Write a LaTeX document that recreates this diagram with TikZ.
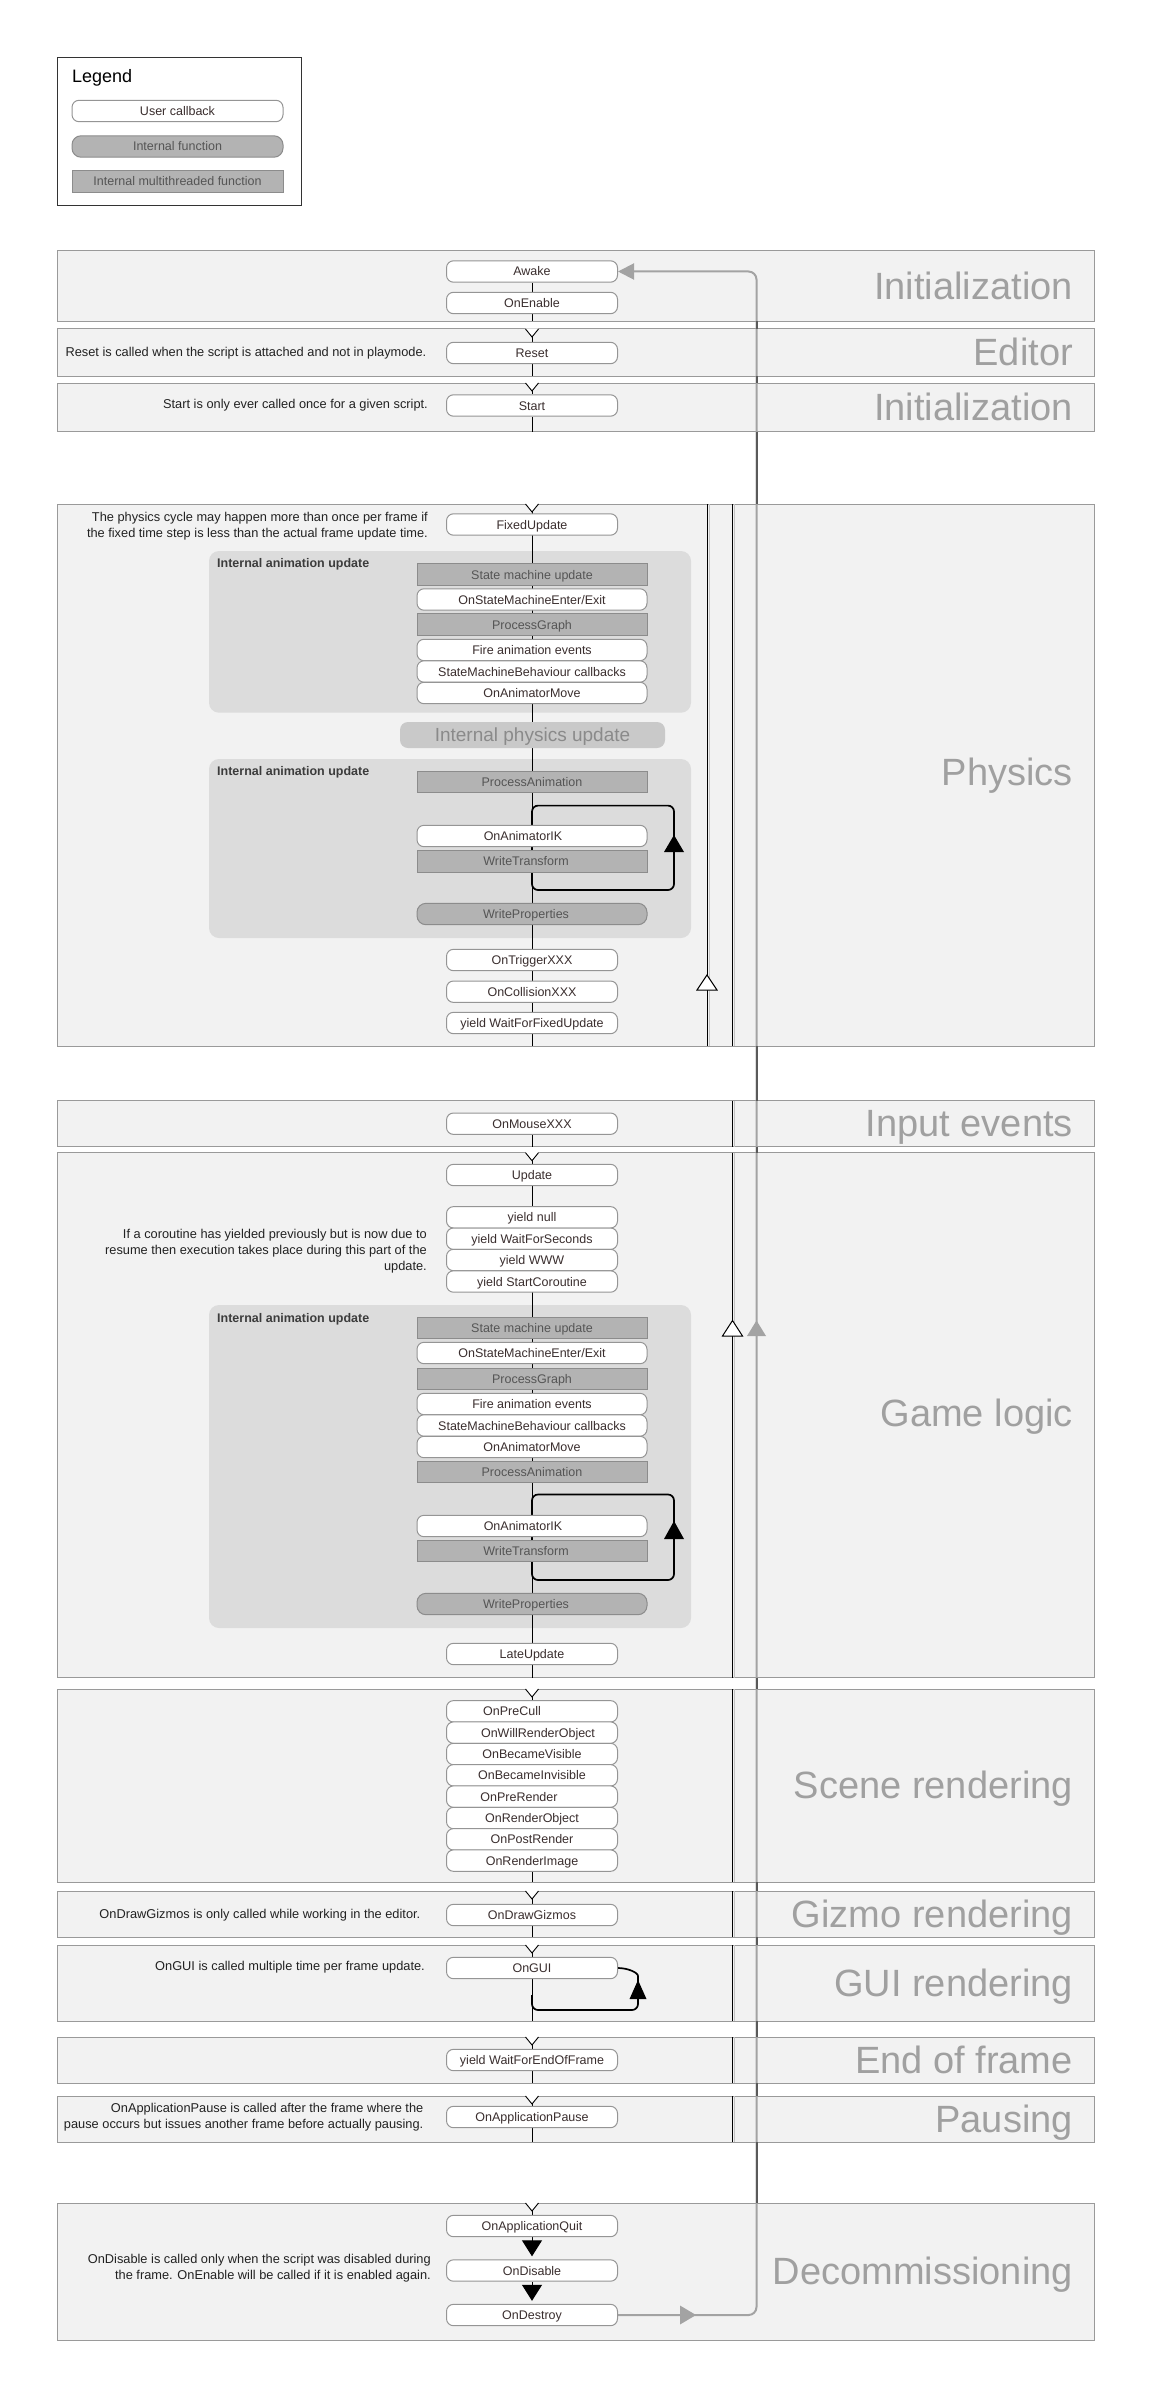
\documentclass[tikz,border=0pt]{standalone}
\usepackage{fontspec}
\setmainfont{Liberation Sans}
\usetikzlibrary{arrows.meta}
\pgfdeclarelayer{back}
\pgfdeclarelayer{mid}
\pgfsetlayers{back,mid,main}

\definecolor{bandfill}{HTML}{F2F2F2}
\definecolor{bandline}{HTML}{9A9A9A}
\definecolor{panelfill}{HTML}{DCDCDC}
\definecolor{paneltext}{HTML}{3C3C3C}
\definecolor{ifnfill}{HTML}{B3B3B3}
\definecolor{ifnline}{HTML}{8C8C8C}
\definecolor{ifntext}{HTML}{555555}
\definecolor{ucbline}{HTML}{959595}
\definecolor{ucbtext}{HTML}{3A2E2E}
\definecolor{labelgray}{HTML}{A0A0A0}
\definecolor{pillfill}{HTML}{C9C9C9}
\definecolor{pilltext}{HTML}{8A8A8A}
\definecolor{retlight}{HTML}{A3A3A3}
\definecolor{retdark}{HTML}{5A5A5A}
\definecolor{lanegray}{HTML}{C4C4C4}
\definecolor{notetext}{HTML}{222222}
\definecolor{legendline}{HTML}{333333}

\newcommand\ufbox{\fontsize{12.5}{14}\selectfont}
\newcommand\ufnote{\fontsize{12.8}{16}\selectfont}
\newcommand\ufband{\fontsize{38}{40}\selectfont}
\newcommand\ufpill{\fontsize{19}{21}\selectfont}
\newcommand\uflegend{\fontsize{18}{20}\selectfont}

\tikzset{
 band/.style={fill=bandfill, draw=bandline, line width=1pt},
 boxbase/.style={minimum height=21.4pt, inner sep=0pt, text height=9pt, text depth=0pt, font=\ufbox, line width=1pt},
 ucb/.style={boxbase, draw=ucbline, fill=white, rounded corners=7pt, minimum width=171pt, text=ucbtext},
 ucbw/.style={ucb, minimum width=230pt},
 ifn/.style={boxbase, draw=ifnline, fill=ifnfill, rounded corners=9pt, minimum width=230pt, text=ifntext},
 imt/.style={boxbase, draw=ifnline, fill=ifnfill, minimum width=230pt, text=ifntext},
 pill/.style={fill=pillfill, rounded corners=8pt, minimum width=265pt, minimum height=26pt, inner sep=0pt, text height=13.6pt, text depth=0pt, font=\ufpill, text=pilltext},
 panel/.style={fill=panelfill, rounded corners=10pt},
 panellabel/.style={anchor=west, inner sep=0pt, font=\ufbox\bfseries, text=paneltext},
 bandlabel/.style={anchor=base east, inner sep=0pt, font=\ufband, text=labelgray},
 note/.style={anchor=east, align=right, inner sep=0pt, font=\ufnote, text=notetext},
 flow/.style={draw=black, line width=1pt},
 loopline/.style={draw=black, line width=1.7pt, rounded corners=6pt},
 lanel/.style={draw=lanegray, line width=1pt},
 laneb/.style={draw=black, line width=1pt},
}

\begin{document}
\begin{tikzpicture}[x=1pt,y=-1pt]
\useasboundingbox (0,0) rectangle (1151,2397);

% ---------------- background layer: bands, lanes, panels
\begin{pgfonlayer}{back}
\fill[white] (0,0) rectangle (1151,2397);
\foreach \n/\ya/\yb in {b1/251/321.5, b2/329/376, b3/383/431.5, b4/504/1046, b5/1100.5/1146.7, b6/1152.7/1677.7, b7/1689/1882, b8/1891/1937, b9/1945/2021, b10/2037/2083, b11/2096/2142, b12/2203/2340}{
  \draw[band] (57,\ya) rectangle (1094.5,\yb);
  \coordinate (\n t) at (532,\ya);
  \coordinate (\n b) at (532,\yb);
  \coordinate (\n l) at (1073,{(\ya+\yb)/2+13});
}
\foreach \n in {b4,b5,b6,b7,b8,b9,b10,b11}{
  \draw[lanel] ([xshift=202.5pt]\n t) -- ([xshift=202.5pt]\n b);
  \draw[laneb] ([xshift=200.5pt]\n t) -- ([xshift=200.5pt]\n b);
}
\draw[lanel] ([xshift=177pt]b4t) -- ([xshift=177pt]b4b);
\draw[laneb] ([xshift=175pt]b4t) -- ([xshift=175pt]b4b);

\fill[panel] (209,551) rectangle (691,712.7);
\fill[panel] (209,759) rectangle (691,938);
\fill[panel] (209,1305) rectangle (691,1628);
\end{pgfonlayer}

% ---------------- legend
\draw[draw=legendline, line width=1pt] (57,57.5) rectangle (301,205.5);
\node[anchor=base west, inner sep=0pt, font=\uflegend, text=black] (legendtitle) at (72,83) {Legend};
\node[ucb, minimum width=211pt] (lucb) at (177.5,111) {User callback};
\node[ifn, minimum width=211pt] (lifn) at (177.5,146.5) {Internal function};
\node[imt, minimum width=211pt] (limt) at (177.5,181.5) {Internal multithreaded function};

% ---------------- nodes
\node[ucb] (awake) at (532,271.5) {Awake};
\node[ucb] (onenable) at (532,303) {OnEnable};
\node[ucb] (reset) at (532,353) {Reset};
\node[ucb] (start) at (532,405.5) {Start};

\node[ucb] (fixedupdate) at (532,524.5) {FixedUpdate};
\node[imt] (psmu) at (532,574.5) {State machine update};
\node[ucbw] (posm) at (532,599.5) {OnStateMachineEnter/Exit};
\node[imt] (ppg) at (532,624.5) {ProcessGraph};
\node[ucbw] (pfae) at (532,650) {Fire animation events};
\node[ucbw] (psmb) at (532,671.5) {StateMachineBehaviour callbacks};
\node[ucbw] (poam) at (532,693) {OnAnimatorMove};
\node[pill] (pphys) at (532.5,735) {Internal physics update};
\node[imt] (ppa) at (532,782) {ProcessAnimation};
\node[ucbw] (pik) at (532,836) {\hspace*{-18pt}OnAnimatorIK};
\node[imt] (pwt) at (532,861.3) {\hspace*{-12pt}WriteTransform};
\node[ifn] (pwp) at (532,914) {\hspace*{-12pt}WriteProperties};
\node[ucb] (trigger) at (532,960) {OnTriggerXXX};
\node[ucb] (collision) at (532,991.7) {OnCollisionXXX};
\node[ucb] (wffu) at (532,1023) {yield WaitForFixedUpdate};

\node[ucb] (onmouse) at (532,1123.7) {OnMouseXXX};

\node[ucb] (update) at (532,1175) {Update};
\node[ucb] (ynull) at (532,1217.3) {yield null};
\node[ucb] (ywfs) at (532,1238.7) {yield WaitForSeconds};
\node[ucb] (ywww) at (532,1260) {yield WWW};
\node[ucb] (ysc) at (532,1281.5) {yield StartCoroutine};
\node[imt] (gsmu) at (532,1328) {State machine update};
\node[ucbw] (gosm) at (532,1353) {OnStateMachineEnter/Exit};
\node[imt] (gpg) at (532,1378.7) {ProcessGraph};
\node[ucbw] (gfae) at (532,1404) {Fire animation events};
\node[ucbw] (gsmb) at (532,1425.5) {StateMachineBehaviour callbacks};
\node[ucbw] (goam) at (532,1447) {OnAnimatorMove};
\node[imt] (gpa) at (532,1472) {ProcessAnimation};
\node[ucbw] (gik) at (532,1526) {\hspace*{-18pt}OnAnimatorIK};
\node[imt] (gwt) at (532,1551) {\hspace*{-12pt}WriteTransform};
\node[ifn] (gwp) at (532,1604) {\hspace*{-12pt}WriteProperties};
\node[ucb] (lateupdate) at (532,1654) {LateUpdate};

\node[ucb] (precull) at (532,1711.3) {\hspace*{-40pt}OnPreCull};
\node[ucb] (willrender) at (532,1732.6) {\hspace*{12pt}OnWillRenderObject};
\node[ucb] (becamevis) at (532,1754.0) {OnBecameVisible};
\node[ucb] (becameinvis) at (532,1775.3) {OnBecameInvisible};
\node[ucb] (prerender) at (532,1796.6) {\hspace*{-26pt}OnPreRender};
\node[ucb] (renderobj) at (532,1818.0) {OnRenderObject};
\node[ucb] (postrender) at (532,1839.3) {OnPostRender};
\node[ucb] (renderimage) at (532,1860.6) {OnRenderImage};

\node[ucb] (drawgizmos) at (532,1915) {OnDrawGizmos};
\node[ucb] (ongui) at (532,1968) {OnGUI};
\node[ucb] (ywfeof) at (532,2060) {yield WaitForEndOfFrame};
\node[ucb] (apppause) at (532,2117) {OnApplicationPause};
\node[ucb] (appquit) at (532,2226) {OnApplicationQuit};
\node[ucb] (ondisable) at (532,2270.5) {OnDisable};
\node[ucb] (ondestroy) at (532,2315) {OnDestroy};

% panel labels
\node[panellabel] (plabel1) at (217,564.5) {Internal animation update};
\node[panellabel] (plabel2) at (217,772.5) {Internal animation update};
\node[panellabel] (plabel3) at (217,1319) {Internal animation update};

% ---------------- connectors (mid layer, behind boxes)
\begin{pgfonlayer}{mid}
% return line
\draw[draw=retlight, line width=2pt, rounded corners=8pt, -{Triangle[length=16pt,width=16pt]}]
  (ondestroy.east) -- (756.5,2315) -- (756.5,271.5) -- (awake.east);
\foreach \ya/\yb in {321.5/329, 376/383, 431.5/504, 1046/1100.5, 1146.7/1152.7, 1677.7/1689, 1882/1891, 1937/1945, 2021/2037, 2083/2096, 2142/2203}{
  \draw[draw=retdark, line width=2pt] (756.5,\ya) -- (756.5,\yb);
}
% central flow
\draw[flow] (awake) -- (onenable) -- (b1b);
\draw[flow] (b2t) -- (reset) -- (b2b);
\draw[flow] (b3t) -- (start) -- (b3b);
\draw[flow] (b4t) -- (b4b);
\draw[flow] (onmouse) -- (b5b);
\draw[flow] (b6t) -- (b6b);
\draw[flow] (b7t) -- (b7b);
\draw[flow] (b8t) -- (b8b);
\draw[flow] (b9t) -- (b9b);
\draw[flow] (b10t) -- (b10b);
\draw[flow] (b11t) -- (b11b);
\draw[flow] (b12t) -- (appquit);
\draw[flow, -{Triangle[length=16pt,width=20pt]}, shorten >=3pt] (appquit) -- (ondisable);
\draw[flow, -{Triangle[length=16pt,width=20pt]}, shorten >=3pt] (ondisable) -- (ondestroy);
% animation loops
\draw[loopline] (532,805.6) rectangle (674,890);
\draw[loopline] (532,1494.5) rectangle (674,1580);
% GUI loop
\draw[draw=black, line width=1.7pt, rounded corners=6pt]
  (ongui.east) to[out=0,in=90] (638,1982) -- (638,2010) -- (532,2010) -- (532,1995);
\end{pgfonlayer}

% ---------------- arrowheads on loops
\fill[black] (664,852) -- (684,852) -- (674,835) -- cycle;
\fill[black] (664,1539) -- (684,1539) -- (674,1521) -- cycle;
\fill[black] (629.5,1999) -- (646.5,1999) -- (638,1980) -- cycle;
% open arrowheads on cycle lines
\filldraw[fill=white, draw=black, line width=1pt] (697,990) -- (717,990) -- (707,975) -- cycle;
\filldraw[fill=white, draw=black, line width=1pt] (722.5,1336) -- (742.5,1336) -- (732.5,1320.5) -- cycle;
% filled arrowheads on the return line
\fill[retlight] (747,1336) -- (766,1336) -- (756.5,1320.5) -- cycle;
\fill[retlight] (680,2305.5) -- (680,2324.5) -- (696,2315) -- cycle;

% V marks at band entries
\foreach \n in {b2,b3,b4,b6,b7,b8,b9,b10,b11,b12}{
  \fill[white] ([xshift=-6.5pt,yshift=0.7pt]\n t) -- ([xshift=6.5pt,yshift=0.7pt]\n t) -- ([yshift=-8pt]\n t) -- cycle;
  \draw[draw=black, line width=0.9pt] ([xshift=-6.5pt]\n t) -- ([yshift=-8pt]\n t) -- ([xshift=6.5pt]\n t);
}

% ---------------- band labels
\node[bandlabel] (lab1) at (b1l) {Initialization};
\node[bandlabel] (lab2) at (b2l) {Editor};
\node[bandlabel] (lab3) at (b3l) {Initialization};
\node[bandlabel] (lab4) at (1073,785) {Physics};
\node[bandlabel] (lab5) at (b5l) {Input events};
\node[bandlabel] (lab6) at (1073,1426) {Game logic};
\node[bandlabel] (lab7) at (b7l) {Scene rendering};
\node[bandlabel] (lab8) at (b8l) {Gizmo rendering};
\node[bandlabel] (lab9) at (b9l) {GUI rendering};
\node[bandlabel] (lab10) at (b10l) {End of frame};
\node[bandlabel] (lab11) at (b11l) {Pausing};
\node[bandlabel] (lab12) at (b12l) {Decommissioning};

% ---------------- notes
\node[note] (nreset) at (426.5,353) {Reset is called when the script is attached and not in playmode.};
\node[note] (nstart) at (428,405.5) {Start is only ever called once for a given script.};
\node[note] (nphys) at (428,526) {The physics cycle may happen more than once per frame if\\the fixed time step is less than the actual frame update time.};
\node[note] (ncor) at (427,1251.5) {If a coroutine has yielded previously but is now due to\\resume then execution takes place during this part of the\\update.};
\node[note] (ngizmo) at (420.5,1915) {OnDrawGizmos is only called while working in the editor.};
\node[note] (ngui) at (425,1967) {OnGUI is called multiple time per frame update.};
\node[note] (npause) at (423.5,2117.5) {OnApplicationPause is called after the frame where the\\pause occurs but issues another frame before actually pausing.};
\node[note] (ndisable) at (431,2268.5) {OnDisable is called only when the script was disabled during\\the frame. OnEnable will be called if it is enabled again.};
\end{tikzpicture}
\end{document}
